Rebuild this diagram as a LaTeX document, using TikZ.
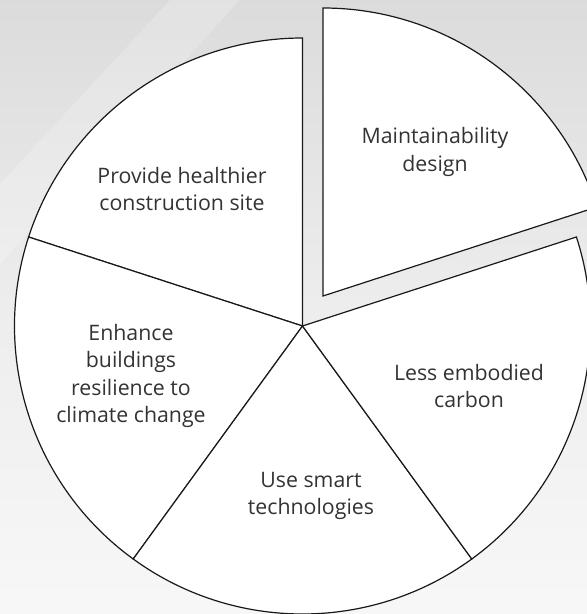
\documentclass[tikz,border=0pt]{standalone}
\usepackage{fontspec}
\setmainfont{Open Sans}
\begin{document}
\begin{tikzpicture}[x=1pt,y=1pt,
  slice/.style={draw=black!90, line width=1.2pt, fill=white, line join=miter},
  lab/.style={align=center, text=black!80, font=\fontsize{21.3}{27.5}\selectfont, inner sep=0pt}]
\useasboundingbox (0,0) rectangle (587,614);
\shade[top color=black!14, bottom color=black!3, middle color=black!7] (0,0) rectangle (587,614);
\fill[white, opacity=0.2] (0,430) -- (170,614) -- (240,614) -- (0,350) -- cycle;
\clip (0,0) rectangle (587,614);
\coordinate (C) at (302.5,288);
\coordinate (E) at (323,318);
\def\R{288}
\draw[slice] (C) -- ++(90:\R) arc[start angle=90, end angle=162, radius=\R] -- cycle;
\draw[slice] (C) -- ++(162:\R) arc[start angle=162, end angle=234, radius=\R] -- cycle;
\draw[slice] (C) -- ++(234:\R) arc[start angle=234, end angle=306, radius=\R] -- cycle;
\draw[slice] (C) -- ++(306:\R) arc[start angle=306, end angle=378, radius=\R] -- cycle;
\draw[slice] (E) -- ++(18:\R) arc[start angle=18, end angle=90, radius=\R] -- cycle;
\node[lab] (m) at (435,462) {Maintainability\\design};
\node[lab] (p) at (182,425) {Provide healthier\\construction site};
\node[lab] (e) at (131,238) {Enhance\\buildings\\resilience to\\climate change};
\node[lab] (l) at (469,228) {Less embodied\\carbon};
\node[lab] (u) at (311,118) {Use smart\\technologies};
\end{tikzpicture}
\end{document}
